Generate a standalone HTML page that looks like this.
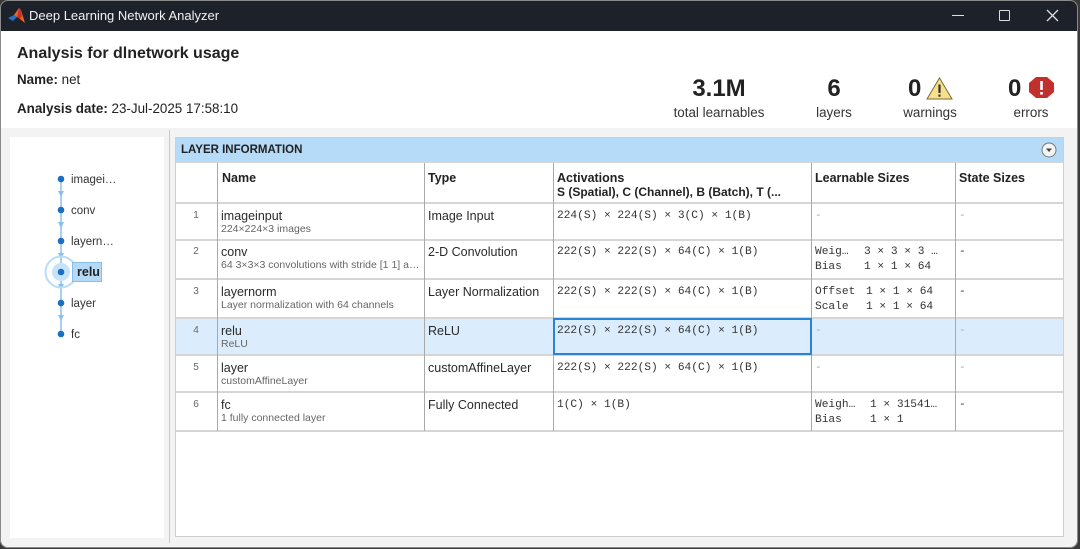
<!DOCTYPE html>
<html><head><meta charset="utf-8">
<style>
*{margin:0;padding:0;box-sizing:border-box}
html,body{width:1080px;height:549px;overflow:hidden;background:#3a3a3a;font-family:"Liberation Sans",Arial,sans-serif;color:#1a1a1a}
.a{position:absolute}
#win{position:absolute;left:0;top:0;width:1078px;height:548px;background:#f3f3f3;border-radius:8px;overflow:hidden}
#wb{position:absolute;left:0;top:0;width:1078px;height:548px;border:1px solid #8a8a8a;border-radius:8px;pointer-events:none}
#title{position:absolute;left:0;top:0;width:1078px;height:31px;background:#1d212a}
#hdr{position:absolute;left:0;top:31px;width:1078px;height:97px;background:#fff}
.t{white-space:nowrap;position:absolute}
.mono{font-family:"Liberation Mono","DejaVu Sans Mono",monospace;font-size:11.2px;color:#333;white-space:pre;position:absolute;line-height:15px}
.nm{font-size:12.5px;color:#2a2a2a;line-height:18px}
.sub{font-size:10.5px;color:#666;line-height:14px}
.num{font-size:10px;color:#666;width:40px;text-align:center;line-height:18px}
.hl{position:absolute;height:1px;background:#d6d6d6}
.vl{position:absolute;width:1px;background:#a9a9a9}
.dash{color:#aaa}
</style></head><body>
<div id="win">
  <div id="title">
    <svg class="a" style="left:8px;top:7px" width="18" height="17" viewBox="0 0 18 17">
      <polygon points="0,11 6,8 9,10 5,14" fill="#2a6fc4"/>
      <polygon points="6,8 11,1 13,3 17,16 12,12 9,10" fill="#e8692a"/>
      <polygon points="11,1 13,3 14,9 12,12 9,10" fill="#c9302c"/>
    </svg>
    <div class="t" style="left:29px;top:8px;font-size:13px;color:#f2f2f2">Deep Learning Network Analyzer</div>
    <div class="a" style="left:952px;top:15px;width:12px;height:1px;background:#ddd"></div>
    <div class="a" style="left:999px;top:10px;width:11px;height:11px;border:1.3px solid #ddd;border-radius:1px"></div>
    <svg class="a" style="left:1046px;top:9px" width="13" height="13"><path d="M1 1L12 12M12 1L1 12" stroke="#ddd" stroke-width="1.3"/></svg>
  </div>
  <div id="hdr">
    <div class="t" style="left:17px;top:14px;font-size:16px;font-weight:bold;color:#222">Analysis for dlnetwork usage</div>
    <div class="t" style="left:17px;top:41px;font-size:13.4px;color:#222"><b>Name:</b> net</div>
    <div class="t" style="left:17px;top:70px;font-size:13.4px;color:#222"><b>Analysis date:</b> 23-Jul-2025 17:58:10</div>

    <div class="t" style="left:619px;width:200px;text-align:center;top:44px;font-size:24px;font-weight:bold;color:#222">3.1M</div>
    <div class="t" style="left:619px;width:200px;text-align:center;top:74px;font-size:13.4px;color:#333">total learnables</div>
    <div class="t" style="left:784px;width:100px;text-align:center;top:44px;font-size:24px;font-weight:bold;color:#222">6</div>
    <div class="t" style="left:784px;width:100px;text-align:center;top:74px;font-size:13.4px;color:#333">layers</div>
    <div class="t" style="left:908px;top:44px;font-size:24px;font-weight:bold;color:#222">0</div>
    <svg class="a" style="left:926px;top:46px" width="27" height="23" viewBox="0 0 27 23">
      <polygon points="13.5,1 26,22 1,22" fill="#f8e08a" stroke="#7a6a3a" stroke-width="1"/>
      <rect x="12.4" y="7.5" width="2.2" height="8.5" fill="#333"/><rect x="12.4" y="17.5" width="2.2" height="2.2" fill="#333"/>
    </svg>
    <div class="t" style="left:880px;width:100px;text-align:center;top:74px;font-size:13.4px;color:#333">warnings</div>
    <div class="t" style="left:1008px;top:44px;font-size:24px;font-weight:bold;color:#222">0</div>
    <svg class="a" style="left:1029px;top:46px" width="25" height="21" viewBox="0 0 25 21">
      <polygon points="7,0 18,0 25,6 25,15 18,21 7,21 0,15 0,6" fill="#c0302c"/>
      <rect x="11.2" y="4" width="2.6" height="9" fill="#fff"/><rect x="11.2" y="15" width="2.6" height="2.6" fill="#fff"/>
    </svg>
    <div class="t" style="left:981px;width:100px;text-align:center;top:74px;font-size:13.4px;color:#333">errors</div>
  </div>

  <!-- left graph panel -->
  <div class="a" style="left:10px;top:137px;width:154px;height:401px;background:#fff"></div>
  <div class="a" style="left:169px;top:130px;width:1px;height:413px;background:#c8c8c8"></div>
  <svg class="a" style="left:0px;top:0px" width="170" height="360">
      <line x1="61" y1="179" x2="61" y2="334" stroke="#8cc0ea" stroke-width="1.5"/>
      <g fill="#8cc0ea">
        <polygon points="58,191 64,191 61,197"/>
        <polygon points="58,222 64,222 61,228"/>
        <polygon points="58,253 64,253 61,259"/>
        <polygon points="58,284 64,284 61,290"/>
        <polygon points="58,315 64,315 61,321"/>
      </g>
      <circle cx="61" cy="272" r="15.5" fill="none" stroke="#b8dcf8" stroke-width="2"/>
      <circle cx="61" cy="272" r="9" fill="#c6e3fa"/>
      <g fill="#1b6fc0">
        <circle cx="61" cy="179" r="3.3"/><circle cx="61" cy="210" r="3.3"/><circle cx="61" cy="241" r="3.3"/>
        <circle cx="61" cy="272" r="3.3"/><circle cx="61" cy="303" r="3.3"/><circle cx="61" cy="334" r="3.3"/>
      </g>
      <rect x="72.5" y="262.5" width="29" height="19" fill="#b4daf7" stroke="#86bdea"/>
  </svg>
  <div class="t" style="left:71px;top:174px;font-size:11.5px;color:#333">imagei…</div>
  <div class="t" style="left:71px;top:205px;font-size:11.5px;color:#333">conv</div>
  <div class="t" style="left:71px;top:236px;font-size:11.5px;color:#333">layern…</div>
  <div class="t" style="left:77px;top:265px;font-size:12.5px;font-weight:bold;color:#222">relu</div>
  <div class="t" style="left:71px;top:298px;font-size:11.5px;color:#333">layer</div>
  <div class="t" style="left:71px;top:329px;font-size:11.5px;color:#333">fc</div>

  <!-- table -->
  <div class="a" style="left:175px;top:137px;width:889px;height:400px;background:#fff;border:1px solid #cfcfcf"></div>
  <div class="a" style="left:176px;top:138px;width:887px;height:24px;background:#b5dbf8"></div>
  <div class="t" style="left:181px;top:144px;font-size:11.5px;font-weight:bold;color:#222">LAYER INFORMATION</div>
  <svg class="a" style="left:1041px;top:142px" width="16" height="16"><circle cx="8" cy="8" r="7" fill="#f4f4f4" stroke="#777" stroke-width="1"/><polygon points="5,6.5 11,6.5 8,10" fill="#444"/></svg>

  <!-- selected row bg -->
  <div class="a" style="left:176px;top:318px;width:887px;height:36px;background:#dbedfc"></div>

  <!-- horizontal lines -->
  <div class="hl" style="left:176px;top:162px;width:887px"></div>
  <div class="hl" style="left:176px;top:202px;width:887px;height:2px"></div>
  <div class="hl" style="left:176px;top:239px;width:887px;height:2px"></div>
  <div class="hl" style="left:176px;top:278px;width:887px;height:2px"></div>
  <div class="hl" style="left:176px;top:317px;width:887px;height:2px"></div>
  <div class="hl" style="left:176px;top:354px;width:887px;height:2px"></div>
  <div class="hl" style="left:176px;top:391px;width:887px;height:2px"></div>
  <div class="hl" style="left:176px;top:430px;width:887px;height:2px"></div>
  <!-- vertical lines -->
  <div class="vl" style="left:217px;top:163px;height:268px"></div>
  <div class="vl" style="left:424px;top:163px;height:268px"></div>
  <div class="vl" style="left:553px;top:163px;height:268px"></div>
  <div class="vl" style="left:811px;top:163px;height:268px"></div>
  <div class="vl" style="left:955px;top:163px;height:268px"></div>

  <!-- selected cell border -->
  <div class="a" style="left:553px;top:318px;width:259px;height:37px;border:2px solid #2a83d5"></div>

  <!-- header row -->
  <div class="t" style="left:222px;top:171px;font-size:12.5px;font-weight:bold;color:#222">Name</div>
  <div class="t" style="left:428px;top:171px;font-size:12.5px;font-weight:bold;color:#222">Type</div>
  <div class="t" style="left:557px;top:171px;font-size:12.5px;font-weight:bold;color:#222">Activations</div>
  <div class="t" style="left:557px;top:185px;font-size:12px;font-weight:bold;color:#222;width:250px;overflow:hidden">S (Spatial), C (Channel), B (Batch), T (...</div>
  <div class="t" style="left:815px;top:171px;font-size:12.5px;font-weight:bold;color:#222">Learnable Sizes</div>
  <div class="t" style="left:959px;top:171px;font-size:12.5px;font-weight:bold;color:#222">State Sizes</div>

  <!-- row 1 -->
  <div class="t num" style="left:176px;top:207px">1</div>
  <div class="t nm" style="left:221px;top:207px">imageinput</div>
  <div class="t sub" style="left:221px;top:222px">224×224×3 images</div>
  <div class="t nm" style="left:428px;top:207px">Image Input</div>
  <div class="mono" style="left:557px;top:209px">224(S) × 224(S) × 3(C) × 1(B)</div>
  <div class="mono dash" style="left:815px;top:209px">-</div>
  <div class="mono dash" style="left:959px;top:209px">-</div>

  <!-- row 2 -->
  <div class="t num" style="left:176px;top:243px">2</div>
  <div class="t nm" style="left:221px;top:243px">conv</div>
  <div class="t sub" style="left:221px;top:258px">64 3×3×3 convolutions with stride [1 1] a…</div>
  <div class="t nm" style="left:428px;top:243px">2-D Convolution</div>
  <div class="mono" style="left:557px;top:245px">222(S) × 222(S) × 64(C) × 1(B)</div>
  <div class="mono" style="left:815px;top:245px">Weig…</div>
  <div class="mono" style="left:864px;top:245px">3 × 3 × 3 …</div>
  <div class="mono" style="left:815px;top:260px">Bias</div>
  <div class="mono" style="left:864px;top:260px">1 × 1 × 64</div>
  <div class="mono" style="left:959px;top:245px">-</div>

  <!-- row 3 -->
  <div class="t num" style="left:176px;top:283px">3</div>
  <div class="t nm" style="left:221px;top:283px">layernorm</div>
  <div class="t sub" style="left:221px;top:298px">Layer normalization with 64 channels</div>
  <div class="t nm" style="left:428px;top:283px">Layer Normalization</div>
  <div class="mono" style="left:557px;top:285px">222(S) × 222(S) × 64(C) × 1(B)</div>
  <div class="mono" style="left:815px;top:285px">Offset</div>
  <div class="mono" style="left:866px;top:285px">1 × 1 × 64</div>
  <div class="mono" style="left:815px;top:300px">Scale</div>
  <div class="mono" style="left:866px;top:300px">1 × 1 × 64</div>
  <div class="mono" style="left:959px;top:285px">-</div>

  <!-- row 4 -->
  <div class="t num" style="left:176px;top:322px">4</div>
  <div class="t nm" style="left:221px;top:322px">relu</div>
  <div class="t sub" style="left:221px;top:337px">ReLU</div>
  <div class="t nm" style="left:428px;top:322px">ReLU</div>
  <div class="mono" style="left:557px;top:324px">222(S) × 222(S) × 64(C) × 1(B)</div>
  <div class="mono dash" style="left:815px;top:324px">-</div>
  <div class="mono dash" style="left:959px;top:324px">-</div>

  <!-- row 5 -->
  <div class="t num" style="left:176px;top:359px">5</div>
  <div class="t nm" style="left:221px;top:359px">layer</div>
  <div class="t sub" style="left:221px;top:374px">customAffineLayer</div>
  <div class="t nm" style="left:428px;top:359px">customAffineLayer</div>
  <div class="mono" style="left:557px;top:361px">222(S) × 222(S) × 64(C) × 1(B)</div>
  <div class="mono dash" style="left:815px;top:361px">-</div>
  <div class="mono dash" style="left:959px;top:361px">-</div>

  <!-- row 6 -->
  <div class="t num" style="left:176px;top:396px">6</div>
  <div class="t nm" style="left:221px;top:396px">fc</div>
  <div class="t sub" style="left:221px;top:411px">1 fully connected layer</div>
  <div class="t nm" style="left:428px;top:396px">Fully Connected</div>
  <div class="mono" style="left:557px;top:398px">1(C) × 1(B)</div>
  <div class="mono" style="left:815px;top:398px">Weigh…</div>
  <div class="mono" style="left:870px;top:398px">1 × 31541…</div>
  <div class="mono" style="left:815px;top:413px">Bias</div>
  <div class="mono" style="left:870px;top:413px">1 × 1</div>
  <div class="mono" style="left:959px;top:398px">-</div>
</div>
<div id="wb"></div>
</body></html>
